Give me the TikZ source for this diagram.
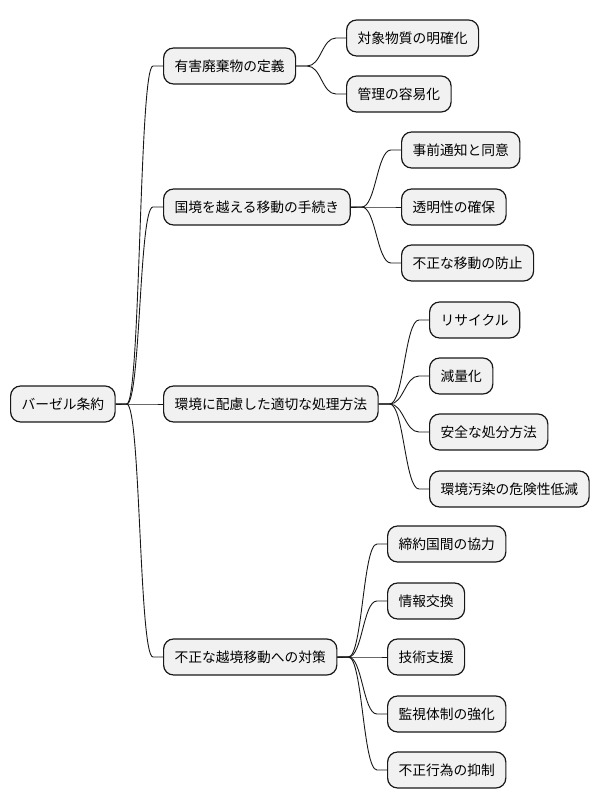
\documentclass[tikz,border=0pt]{standalone}
\usepackage{fontspec}
\setmainfont{Noto Sans CJK JP}
\usetikzlibrary{positioning}
\definecolor{boxfill}{HTML}{F1F1F1}
\definecolor{boxline}{HTML}{181818}

\begin{document}
\begin{tikzpicture}[x=1pt, y=-1pt,
                    topic/.style = {draw=boxline, fill=boxfill, rounded corners=10pt, line width=1.2pt, minimum height=36pt, inner xsep=11pt, anchor=west, font=\fontsize{13.75}{16}\selectfont},
                    branch/.style = {draw=boxline, line width=0.9pt, to path={-- ++(11,0) .. controls +(14,0) and +(-14,0) .. ([xshift=-10]\tikztotarget.west) -- (\tikztotarget.west)}}
                ]
                \useasboundingbox (0,0) rectangle (600,809);

                \node[topic] (basel) at (10,404) {バーゼル条約};

                \node[topic] (definition) at (163,66) {有害廃棄物の定義};
                \node[topic] (procedure) at (163,207) {国境を越える移動の手続き};
                \node[topic] (treatment) at (163,404) {環境に配慮した適切な処理方法};
                \node[topic] (countermeasure) at (163,657) {不正な越境移動への対策};

                \node[topic] (substance) at (346,38) {対象物質の明確化};
                \node[topic] (management) at (346,94) {管理の容易化};

                \node[topic] (notice) at (401,150) {事前通知と同意};
                \node[topic] (transparency) at (401,207) {透明性の確保};
                \node[topic] (prevention) at (401,263) {不正な移動の防止};

                \node[topic] (recycle) at (429,320) {リサイクル};
                \node[topic] (reduction) at (429,376) {減量化};
                \node[topic] (disposal) at (429,432) {安全な処分方法};
                \node[topic] (pollution) at (429,489) {環境汚染の危険性低減};

                \node[topic] (cooperation) at (387,544) {締約国間の協力};
                \node[topic] (exchange) at (387,601) {情報交換};
                \node[topic] (support) at (387,657) {技術支援};
                \node[topic] (monitoring) at (387,714) {監視体制の強化};
                \node[topic] (deterrence) at (387,770) {不正行為の抑制};

                \draw[branch] (basel.east) to (definition);
                \draw[branch] (basel.east) to (procedure);
                \draw[branch] (basel.east) to (treatment);
                \draw[branch] (basel.east) to (countermeasure);

                \draw[branch] (definition.east) to (substance);
                \draw[branch] (definition.east) to (management);

                \draw[branch] (procedure.east) to (notice);
                \draw[branch] (procedure.east) to (transparency);
                \draw[branch] (procedure.east) to (prevention);

                \draw[branch] (treatment.east) to (recycle);
                \draw[branch] (treatment.east) to (reduction);
                \draw[branch] (treatment.east) to (disposal);
                \draw[branch] (treatment.east) to (pollution);

                \draw[branch] (countermeasure.east) to (cooperation);
                \draw[branch] (countermeasure.east) to (exchange);
                \draw[branch] (countermeasure.east) to (support);
                \draw[branch] (countermeasure.east) to (monitoring);
                \draw[branch] (countermeasure.east) to (deterrence);

            \end{tikzpicture}
\end{document}
